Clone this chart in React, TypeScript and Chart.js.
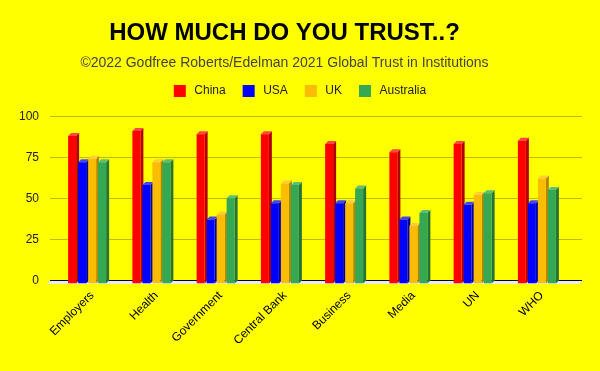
import React, { useEffect, useRef } from "react";
import { Chart, registerables } from "chart.js";

Chart.register(...registerables);

// ---- data ----
const categories = ["Employers", "Health", "Government", "Central Bank", "Business", "Media", "UN", "WHO"];
const seriesNames = ["China", "USA", "UK", "Australia"];
const chinaValues = [90, 93, 91, 91, 85, 80, 85, 87];
const usaValues = [74, 60, 39, 49, 49, 39, 48, 49];
const ukValues = [76, 74, 42, 61, 49, 35, 54, 64];
const australiaValues = [74, 74, 52, 60, 58, 43, 55, 57];
const yTickValues = [0, 25, 50, 75, 100];

const titleText = "HOW MUCH DO YOU TRUST..?";
const subtitleText = "©2022 Godfree Roberts/Edelman 2021 Global Trust in Institutions";

// ---- styles ----
const FONT = "'Liberation Sans', Arial, sans-serif";
const frontColors = ["#ff0000", "#0000ff", "#fbbc04", "#34a853"];
const sideColors = ["#b00000", "#0000a8", "#b58700", "#23733a"];
const capColors = ["#ff4545", "#4545ff", "#ffcc40", "#5cbf77"];
const gridColor = "#bdbd00";
const D = 3; // 3D depth in px

const backgroundPlugin = {
  id: "bgYellow",
  beforeDraw(chart: any) {
    const ctx = chart.ctx;
    ctx.save();
    ctx.fillStyle = "#ffff00";
    ctx.fillRect(0, 0, chart.width, chart.height);
    ctx.restore();
  },
};

const depthPlugin = {
  id: "depth3d",
  beforeDatasetsDraw(chart: any) {
    const { ctx, chartArea, scales } = chart;
    const ys = scales.y;
    const left = chartArea.left - 5;
    const right = chartArea.right + 13;
    ctx.save();
    // back-plane gridlines
    ctx.strokeStyle = gridColor;
    ctx.lineWidth = 1;
    yTickValues.forEach((v) => {
      if (v === 0) return;
      const py = Math.floor(ys.getPixelForValue(v) - D) + 0.5;
      ctx.beginPath();
      ctx.moveTo(left, py);
      ctx.lineTo(right, py);
      ctx.stroke();
    });
    // floor
    const yb = Math.floor(ys.getPixelForValue(0) - D) + 0.5;
    ctx.fillStyle = "#ebebeb";
    ctx.beginPath();
    ctx.moveTo(left, yb + 0.5);
    ctx.lineTo(right, yb + 0.5);
    ctx.lineTo(right - D, yb + 0.5 + D);
    ctx.lineTo(left - D, yb + 0.5 + D);
    ctx.closePath();
    ctx.fill();
    // axis line
    ctx.strokeStyle = "#000";
    ctx.beginPath();
    ctx.moveTo(left, yb);
    ctx.lineTo(right, yb);
    ctx.stroke();
    // bar sides and caps
    chart.data.datasets.forEach((_ds: any, i: number) => {
      const meta = chart.getDatasetMeta(i);
      meta.data.forEach((el: any) => {
        const { x, y, base, width } = el.getProps(["x", "y", "base", "width"], true);
        const l = x - width / 2;
        const r = x + width / 2;
        ctx.fillStyle = sideColors[i];
        ctx.beginPath();
        ctx.moveTo(r, y);
        ctx.lineTo(r + D, y - D);
        ctx.lineTo(r + D, base - D);
        ctx.lineTo(r, base);
        ctx.closePath();
        ctx.fill();
        ctx.fillStyle = capColors[i];
        ctx.beginPath();
        ctx.moveTo(l, y);
        ctx.lineTo(l + D, y - D);
        ctx.lineTo(r + D, y - D);
        ctx.lineTo(r, y);
        ctx.closePath();
        ctx.fill();
      });
    });
    ctx.restore();
  },
};

const legendPlugin = {
  id: "customLegend",
  afterDraw(chart: any) {
    const ctx = chart.ctx;
    ctx.save();
    ctx.font = `12px ${FONT}`;
    ctx.textBaseline = "middle";
    ctx.textAlign = "left";
    const box = 12;
    const gap = 8.5;
    const spacing = 17;
    const items = chart.data.datasets.map((ds: any) => ({
      text: ds.label as string,
      color: ds.backgroundColor as string,
      w: ctx.measureText(ds.label).width,
    }));
    const total =
      items.reduce((s: number, it: any) => s + box + gap + it.w, 0) + spacing * (items.length - 1);
    let x = chart.width / 2 - total / 2;
    const cy = 91;
    items.forEach((it: any) => {
      ctx.fillStyle = it.color;
      ctx.fillRect(x, cy - 6, box, box);
      x += box + gap;
      ctx.fillStyle = "#222";
      ctx.fillText(it.text, x, cy);
      x += it.w + spacing;
    });
    ctx.restore();
  },
};

export default function App() {
  const ref = useRef<HTMLCanvasElement>(null);

  useEffect(() => {
    const canvas = ref.current;
    if (!canvas) return;
    const seriesValues = [chinaValues, usaValues, ukValues, australiaValues];
    const chart = new Chart(canvas, {
      type: "bar",
      data: {
        labels: categories,
        datasets: seriesNames.map((name, i) => ({
          label: name,
          data: seriesValues[i],
          backgroundColor: frontColors[i],
          borderWidth: 0,
          categoryPercentage: 40 / 64.25,
          barPercentage: 0.8,
        })),
      },
      options: {
        responsive: false,
        devicePixelRatio: 1,
        animation: false,
        events: [],
        layout: { padding: { left: 0, right: 31, top: 0, bottom: 0 } },
        plugins: {
          legend: { display: false },
          tooltip: { enabled: false },
          title: {
            display: true,
            text: titleText,
            color: "#000",
            font: { family: FONT, size: 24, weight: "bold", lineHeight: 1.2 },
            padding: { top: 19, bottom: 0 },
          },
          subtitle: {
            display: true,
            text: subtitleText,
            color: "#444",
            font: { family: FONT, size: 14, lineHeight: 1.2 },
            padding: { top: 7.3, bottom: 47.6 },
          },
        },
        scales: {
          x: {
            type: "category",
            grid: { display: false, drawTicks: false },
            border: { display: false },
            ticks: {
              autoSkip: false,
              minRotation: 45,
              maxRotation: 45,
              padding: 5,
              labelOffset: 5,
              color: "#000",
              font: { family: FONT, size: 12 },
            },
            afterFit: (s: any) => {
              s.height = 87.5;
            },
          },
          y: {
            min: 0,
            max: 100,
            grid: { display: false, drawTicks: false },
            border: { display: false },
            ticks: {
              stepSize: 25,
              padding: 16,
              labelOffset: -D,
              color: "#222",
              font: { family: FONT, size: 12 },
            },
            afterBuildTicks: (s: any) => {
              s.ticks = yTickValues.map((v) => ({ value: v }));
            },
            afterFit: (s: any) => {
              s.width = 55;
            },
          },
        },
      },
      plugins: [backgroundPlugin, depthPlugin, legendPlugin],
    } as any);
    return () => chart.destroy();
  }, []);

  return (
    <div style={{ position: "fixed", left: 0, top: 0, width: 600, height: 371, background: "#ffff00" }}>
      <canvas ref={ref} width={600} height={371} style={{ display: "block", width: 600, height: 371 }} />
    </div>
  );
}
